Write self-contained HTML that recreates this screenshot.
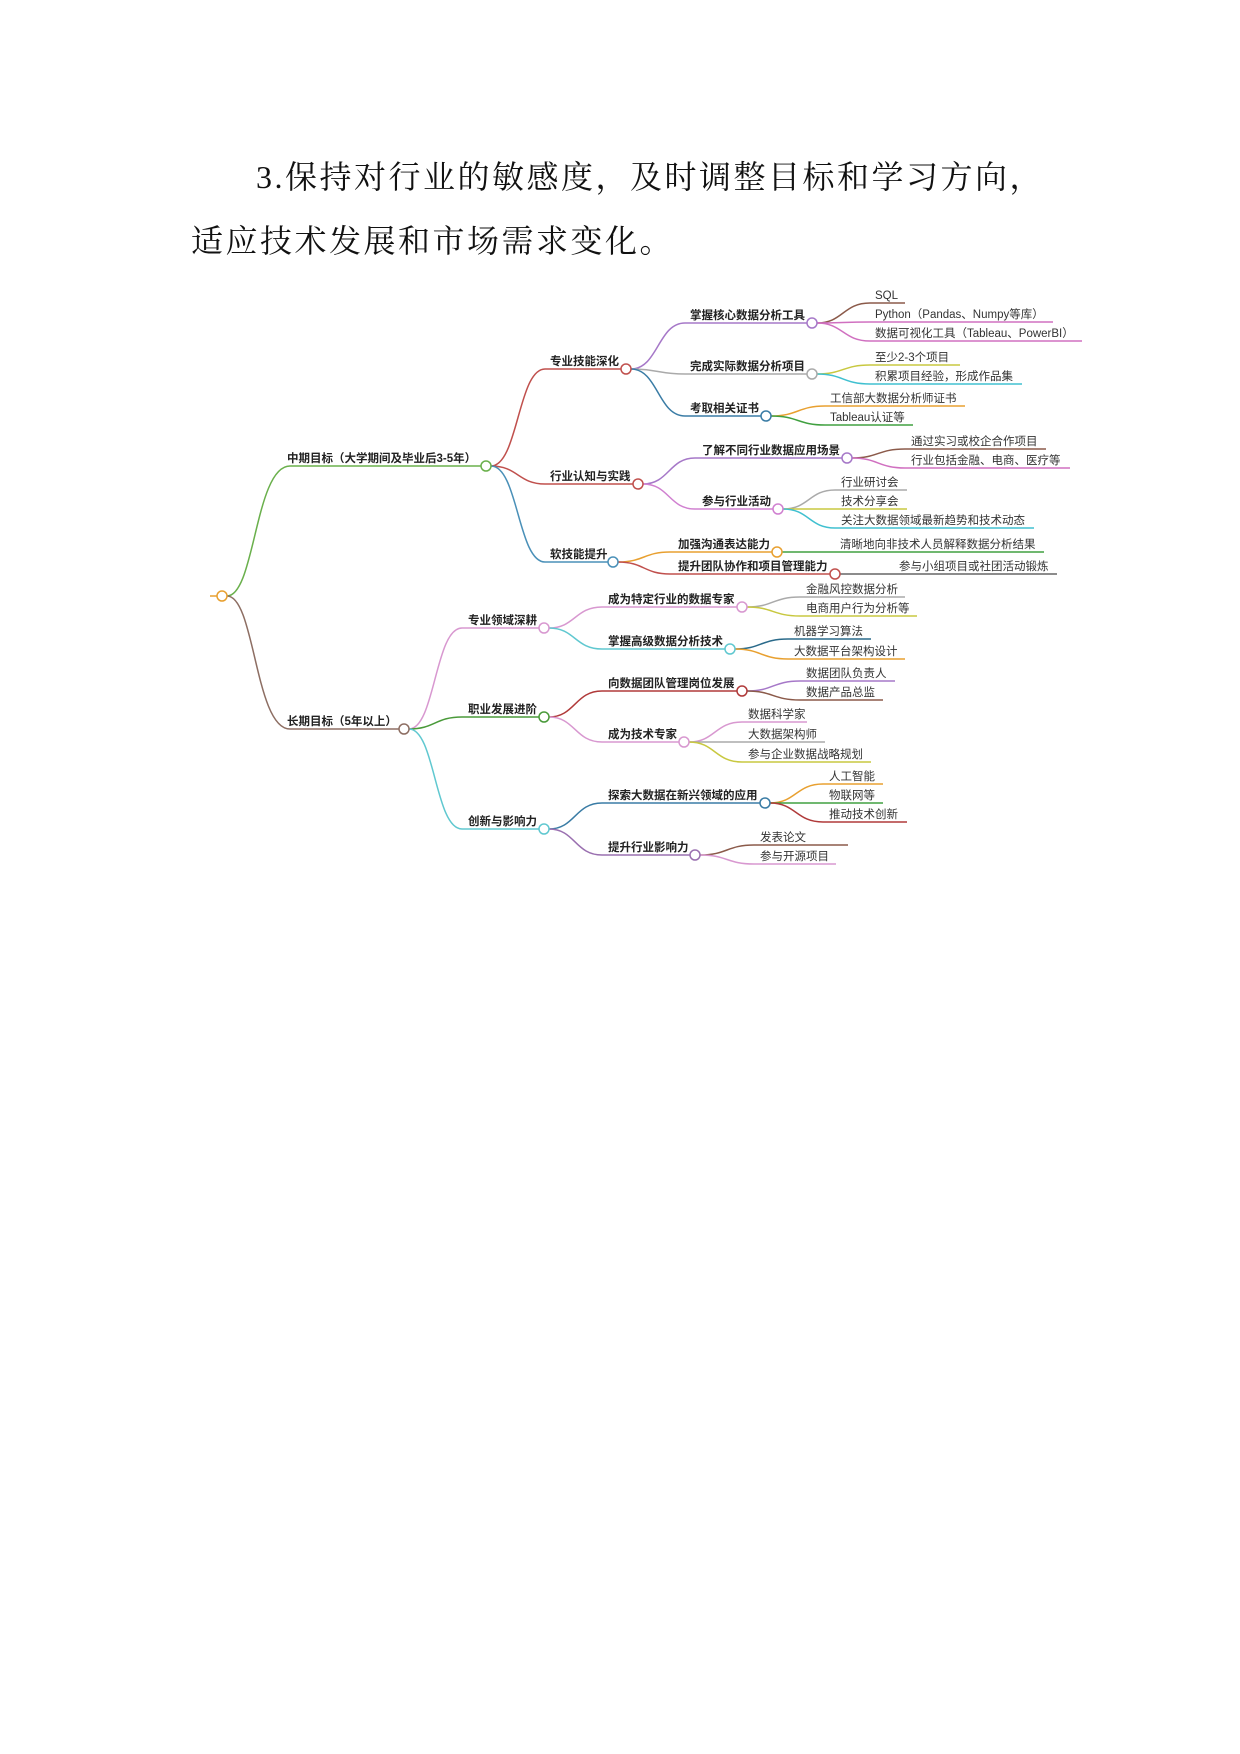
<!DOCTYPE html>
<html><head><meta charset="utf-8"><style>
html,body{margin:0;padding:0;background:#fff;}
body{width:1240px;height:1754px;position:relative;overflow:hidden;}
.p{position:absolute;font-family:"Liberation Serif","Noto Serif CJK SC",serif;font-size:32px;letter-spacing:2.5px;color:#111;white-space:nowrap;}
svg{position:absolute;left:0;top:0;}
svg text{font-family:"Liberation Sans","Noto Sans CJK SC",sans-serif;font-size:11.5px;fill:#333;}
svg text.b{font-weight:bold;fill:#222;}
path{fill:none;stroke-width:1.5;}
circle{fill:#fff;stroke-width:1.5;}
</style></head><body>
<div class="p" style="left:256px;top:152px;">3.保持对行业的敏感度，及时调整目标和学习方向，</div>
<div class="p" style="left:191px;top:216px;">适应技术发展和市场需求变化。</div>
<svg width="1240" height="1754" viewBox="0 0 1240 1754">
<path d="M210 596H217" stroke="#e8a030"/>
<path d="M227 596C255 596 255 466 290 466H481" stroke="#6ab04c"/>
<path d="M227 596C255 596 255 729 290 729H399" stroke="#8d6e63"/>
<path d="M491 466C518 466 518 369 545 369H621" stroke="#c0504d"/>
<path d="M491 466C518 466 518 484 545 484H633" stroke="#c0504d"/>
<path d="M491 466C518 466 518 562 545 562H608" stroke="#4a90b8"/>
<path d="M631 369C658 369 658 323 685 323H807" stroke="#a678c8"/>
<path d="M631 369C658 369 658 374 685 374H807" stroke="#aaa"/>
<path d="M631 369C658 369 658 416 685 416H761" stroke="#3a7ca5"/>
<path d="M817 323C843 323 843 303 870 303H905" stroke="#8b5a4a"/>
<path d="M817 323C843 323 843 322 870 322H1053" stroke="#d070c0"/>
<path d="M817 323C843 323 843 341 870 341H1082" stroke="#d070c0"/>
<path d="M817 374C843 374 843 365 870 365H960" stroke="#c8c840"/>
<path d="M817 374C843 374 843 384 870 384H1022" stroke="#40c0d0"/>
<path d="M771 416C798 416 798 406 825 406H965" stroke="#e8a030"/>
<path d="M771 416C798 416 798 425 825 425H913" stroke="#40a040"/>
<path d="M643 484C669 484 669 458 695 458H842" stroke="#a678c8"/>
<path d="M643 484C669 484 669 509 695 509H773" stroke="#d080d0"/>
<path d="M852 458C878 458 878 449 905 449H1046" stroke="#8b5a4a"/>
<path d="M852 458C878 458 878 468 905 468H1070" stroke="#d070c0"/>
<path d="M783 509C809 509 809 490 835 490H907" stroke="#aaa"/>
<path d="M783 509C809 509 809 509 835 509H907" stroke="#c8c840"/>
<path d="M783 509C809 509 809 528 835 528H1034" stroke="#40c0d0"/>
<path d="M618 562C644 562 644 552 670 552H772" stroke="#e8a030"/>
<path d="M618 562C644 562 644 574 670 574H830" stroke="#c0504d"/>
<path d="M782 552H1044" stroke="#40a040"/>
<path d="M840 574C866 574 866 574 892 574H1057" stroke="#666"/>
<path d="M409 729C435 729 435 628 462 628H539" stroke="#d898d0"/>
<path d="M409 729C435 729 435 717 462 717H539" stroke="#4a9a3a"/>
<path d="M409 729C435 729 435 829 462 829H539" stroke="#60c8d0"/>
<path d="M549 628C575 628 575 607 602 607H737" stroke="#d898d0"/>
<path d="M549 628C575 628 575 649 602 649H725" stroke="#60c8d0"/>
<path d="M549 717C575 717 575 691 602 691H737" stroke="#b03a3a"/>
<path d="M549 717C575 717 575 742 602 742H679" stroke="#d898d0"/>
<path d="M549 829C575 829 575 803 602 803H760" stroke="#3a7ca5"/>
<path d="M549 829C575 829 575 855 602 855H690" stroke="#9a70b0"/>
<path d="M747 607C773 607 773 597 800 597H905" stroke="#aaa"/>
<path d="M747 607C773 607 773 616 800 616H917" stroke="#c8c840"/>
<path d="M735 649C761 649 761 639 788 639H871" stroke="#2a6a8a"/>
<path d="M735 649C761 649 761 659 788 659H905" stroke="#e8a030"/>
<path d="M747 691C773 691 773 681 800 681H895" stroke="#a678c8"/>
<path d="M747 691C773 691 773 700 800 700H883" stroke="#8b5a4a"/>
<path d="M689 742C715 742 715 722 742 722H807" stroke="#d898d0"/>
<path d="M689 742C715 742 715 742 742 742H825" stroke="#aaa"/>
<path d="M689 742C715 742 715 762 742 762H871" stroke="#c8c840"/>
<path d="M770 803C796 803 796 784 823 784H883" stroke="#e8a030"/>
<path d="M770 803C796 803 796 803 823 803H883" stroke="#40a040"/>
<path d="M770 803C796 803 796 822 823 822H907" stroke="#b03a3a"/>
<path d="M700 855C727 855 727 845 754 845H848" stroke="#8b5a4a"/>
<path d="M700 855C727 855 727 864 754 864H836" stroke="#d898d0"/>
<circle cx="222" cy="596" r="5" stroke="#e8a030"/>
<circle cx="486" cy="466" r="5" stroke="#6ab04c"/>
<circle cx="404" cy="729" r="5" stroke="#8d6e63"/>
<circle cx="626" cy="369" r="5" stroke="#c0504d"/>
<circle cx="638" cy="484" r="5" stroke="#c0504d"/>
<circle cx="613" cy="562" r="5" stroke="#4a90b8"/>
<circle cx="812" cy="323" r="5" stroke="#a678c8"/>
<circle cx="812" cy="374" r="5" stroke="#aaa"/>
<circle cx="766" cy="416" r="5" stroke="#3a7ca5"/>
<circle cx="847" cy="458" r="5" stroke="#a678c8"/>
<circle cx="778" cy="509" r="5" stroke="#d080d0"/>
<circle cx="777" cy="552" r="5" stroke="#e8a030"/>
<circle cx="835" cy="574" r="5" stroke="#c0504d"/>
<circle cx="544" cy="628" r="5" stroke="#d898d0"/>
<circle cx="544" cy="717" r="5" stroke="#4a9a3a"/>
<circle cx="544" cy="829" r="5" stroke="#60c8d0"/>
<circle cx="742" cy="607" r="5" stroke="#d898d0"/>
<circle cx="730" cy="649" r="5" stroke="#60c8d0"/>
<circle cx="742" cy="691" r="5" stroke="#b03a3a"/>
<circle cx="684" cy="742" r="5" stroke="#d898d0"/>
<circle cx="765" cy="803" r="5" stroke="#3a7ca5"/>
<circle cx="695" cy="855" r="5" stroke="#9a70b0"/>
<text class="b" x="287" y="462">中期目标（大学期间及毕业后3-5年）</text>
<text class="b" x="287" y="725">长期目标（5年以上）</text>
<text class="b" x="550" y="365">专业技能深化</text>
<text class="b" x="550" y="480">行业认知与实践</text>
<text class="b" x="550" y="558">软技能提升</text>
<text class="b" x="690" y="319">掌握核心数据分析工具</text>
<text class="b" x="690" y="370">完成实际数据分析项目</text>
<text class="b" x="690" y="412">考取相关证书</text>
<text class="b" x="702" y="454">了解不同行业数据应用场景</text>
<text class="b" x="702" y="505">参与行业活动</text>
<text class="b" x="678" y="548">加强沟通表达能力</text>
<text class="b" x="678" y="570">提升团队协作和项目管理能力</text>
<text x="875" y="299">SQL</text>
<text x="875" y="318">Python（Pandas、Numpy等库）</text>
<text x="875" y="337">数据可视化工具（Tableau、PowerBI）</text>
<text x="875" y="361">至少2-3个项目</text>
<text x="875" y="380">积累项目经验，形成作品集</text>
<text x="830" y="402">工信部大数据分析师证书</text>
<text x="830" y="421">Tableau认证等</text>
<text x="911" y="445">通过实习或校企合作项目</text>
<text x="911" y="464">行业包括金融、电商、医疗等</text>
<text x="841" y="486">行业研讨会</text>
<text x="841" y="505">技术分享会</text>
<text x="841" y="524">关注大数据领域最新趋势和技术动态</text>
<text x="840" y="548">清晰地向非技术人员解释数据分析结果</text>
<text x="899" y="570">参与小组项目或社团活动锻炼</text>
<text class="b" x="468" y="624">专业领域深耕</text>
<text class="b" x="468" y="713">职业发展进阶</text>
<text class="b" x="468" y="825">创新与影响力</text>
<text class="b" x="608" y="603">成为特定行业的数据专家</text>
<text class="b" x="608" y="645">掌握高级数据分析技术</text>
<text class="b" x="608" y="687">向数据团队管理岗位发展</text>
<text class="b" x="608" y="738">成为技术专家</text>
<text class="b" x="608" y="799">探索大数据在新兴领域的应用</text>
<text class="b" x="608" y="851">提升行业影响力</text>
<text x="806" y="593">金融风控数据分析</text>
<text x="806" y="612">电商用户行为分析等</text>
<text x="794" y="635">机器学习算法</text>
<text x="794" y="655">大数据平台架构设计</text>
<text x="806" y="677">数据团队负责人</text>
<text x="806" y="696">数据产品总监</text>
<text x="748" y="718">数据科学家</text>
<text x="748" y="738">大数据架构师</text>
<text x="748" y="758">参与企业数据战略规划</text>
<text x="829" y="780">人工智能</text>
<text x="829" y="799">物联网等</text>
<text x="829" y="818">推动技术创新</text>
<text x="760" y="841">发表论文</text>
<text x="760" y="860">参与开源项目</text>
</svg>
</body></html>
